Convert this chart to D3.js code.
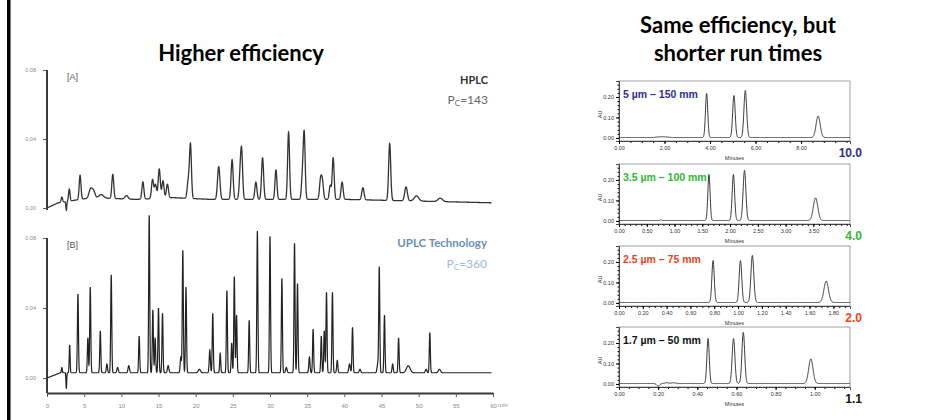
<!DOCTYPE html>
<html>
<head>
<meta charset="utf-8">
<script src="https://cdn.jsdelivr.net/npm/d3@7"></script>
<style>
body { margin: 0; background: #fff; }
svg text { font-family: "Liberation Sans", Arial, sans-serif; }
</style>
</head>
<body>
<div id="chart"></div>
<script>
// ===== data =====
// left side: 60 min run, peak apex times (min), heights above baseline (AU), widths (sigma, min)
var hplcTimes   = [2.0, 2.6, 3.0, 4.45, 5.85, 6.25, 7.3, 8.85, 10.7, 12.9, 14.2, 14.6, 15.1, 15.6, 16.2, 19.0, 19.3, 23.1, 24.9, 26.0, 26.2, 28.1, 29.0, 30.8, 32.5, 34.35, 34.6, 36.8, 37.05, 38.1, 38.5, 39.7, 42.5, 46.1, 48.3, 49.7, 52.9];
var hplcHeights = [0.003, -0.005, 0.007, 0.014, 0.005, 0.004, 0.002, 0.014, 0.002, 0.010, 0.011, 0.008, 0.017, 0.010, 0.008, 0.010, 0.031, 0.019, 0.023, 0.015, 0.024, 0.010, 0.024, 0.017, 0.039, 0.012, 0.038, 0.011, 0.010, 0.008, 0.024, 0.010, 0.007, 0.033, 0.008, 0.003, 0.002];
var hplcWidths  = [0.10, 0.06, 0.10, 0.12, 0.20, 0.20, 0.30, 0.13, 0.20, 0.13, 0.14, 0.14, 0.14, 0.14, 0.14, 0.14, 0.13, 0.16, 0.14, 0.14, 0.13, 0.14, 0.14, 0.13, 0.13, 0.13, 0.13, 0.14, 0.14, 0.13, 0.13, 0.14, 0.15, 0.14, 0.18, 0.30, 0.30];
var hplcBaseT   = [0, 1.5, 3, 6, 12, 17, 22, 40, 50, 60];
var hplcBaseV   = [0.000, 0.003, 0.004, 0.006, 0.005, 0.006, 0.005, 0.005, 0.004, 0.003];

var uplcTimes   = [2.0, 2.6, 3.05, 4.16, 5.5, 5.82, 7.17, 8.06, 8.64, 9.5, 11.0, 12.4, 13.75, 14.24, 14.55, 15.0, 15.54, 16.3, 18.0, 18.27, 18.7, 20.5, 21.9, 22.3, 23.3, 24.2, 24.85, 25.2, 25.5, 27.2, 28.3, 30.0, 31.6, 32.2, 33.3, 33.7, 35.3, 35.8, 36.9, 37.3, 37.6, 38.4, 39.05, 40.7, 41.1, 42.1, 44.5, 44.7, 45.4, 46.5, 47.3, 48.6, 51.0, 51.5, 52.8];
var uplcHeights = [0.003, -0.009, 0.016, 0.045, 0.020, 0.049, 0.024, 0.005, 0.056, 0.003, 0.004, 0.021, 0.090, 0.036, 0.020, 0.037, 0.034, 0.004, 0.009, 0.070, 0.049, 0.002, 0.013, 0.034, 0.011, 0.047, 0.017, 0.055, 0.033, 0.030, 0.081, 0.078, 0.054, 0.003, 0.074, 0.051, 0.009, 0.025, 0.021, 0.024, 0.046, 0.046, 0.007, 0.005, 0.026, 0.002, 0.005, 0.060, 0.033, 0.005, 0.020, 0.004, 0.002, 0.023, 0.002];
var uplcWidths  = [0.06, 0.05, 0.06, 0.07, 0.07, 0.07, 0.07, 0.08, 0.07, 0.10, 0.10, 0.07, 0.07, 0.07, 0.07, 0.07, 0.07, 0.10, 0.08, 0.07, 0.07, 0.15, 0.08, 0.07, 0.07, 0.07, 0.07, 0.07, 0.07, 0.07, 0.07, 0.07, 0.07, 0.10, 0.07, 0.07, 0.08, 0.07, 0.07, 0.07, 0.07, 0.07, 0.08, 0.10, 0.07, 0.10, 0.10, 0.07, 0.07, 0.08, 0.07, 0.25, 0.10, 0.07, 0.15];
var uplcBaseT   = [0, 1.8, 60];
var uplcBaseV   = [0.000, 0.003, 0.003];

var leftXTicks = [0, 5, 10, 15, 20, 25, 30, 35, 40, 45, 50, 55, 60];
var leftYTicks = [0.00, 0.04, 0.08];

// right side: same separation on four columns
var columnNames = ["5 µm – 150 mm", "3.5 µm – 100 mm", "2.5 µm – 75 mm", "1.7 µm – 50 mm"];
var runTimes    = ["10.0", "4.0", "2.0", "1.1"];
var columnEnds  = [10.15, 4.16, 1.94, 1.18];
var lastLabels  = [8, 3.5, 1.8, 1.0];
var tickSteps   = [2, 0.5, 0.2, 0.2];
var minorSteps  = [0.5, 0.1, 0.05, 0.05];
var peakTimes   = [[1.9, 3.85, 5.05, 5.55, 8.75], [0.75, 1.62, 2.06, 2.26, 3.54], [0.79, 1.02, 1.12, 1.74], [0.2, 0.245, 0.28, 0.455, 0.585, 0.635, 0.98]];
var peakHeights = [[0.004, 0.215, 0.205, 0.23, 0.105], [0.004, 0.225, 0.225, 0.245, 0.11], [0.205, 0.205, 0.23, 0.105], [-0.012, 0.004, 0.004, 0.22, 0.22, 0.25, 0.12]];
var peakWidths  = [[0.2, 0.05, 0.055, 0.06, 0.09], [0.01, 0.02, 0.022, 0.025, 0.04], [0.01, 0.011, 0.012, 0.019], [0.008, 0.01, 0.01, 0.006, 0.007, 0.007, 0.011]];
var rightYTicks = [0.00, 0.10, 0.20];
var columnColors = ["#2e3192", "#33b533", "#ee4422", "#111111"];

// ===== set up =====
var svgWidth = 952;
var svgHeight = 420;

var svg = d3.select("#chart")
  .append("svg")
  .attr("width", svgWidth)
  .attr("height", svgHeight);

// sum of gaussian peaks on a baseline
function trace(times, heights, widths, base, t0, t1, step) {
  return d3.range(t0, t1 + step / 2, step).map(function(t) {
    var v = base(t);
    times.forEach(function(c, i) {
      v += heights[i] * Math.exp(-Math.pow(t - c, 2) / (2 * widths[i] * widths[i]));
    });
    return [t, v];
  });
}

// left border bar
svg.append("rect")
  .attr("x", 7).attr("y", 0)
  .attr("width", 3.5).attr("height", svgHeight)
  .attr("fill", "#000");

// titles
svg.append("text")
  .attr("x", 241).attr("y", 61)
  .attr("text-anchor", "middle")
  .style("font-family", "Lato, sans-serif")
  .style("font-weight", "bold")
  .style("font-size", "22px")
  .text("Higher efficiency");

svg.append("text")
  .attr("x", 738).attr("y", 33)
  .attr("text-anchor", "middle")
  .style("font-family", "Lato, sans-serif")
  .style("font-weight", "bold")
  .style("font-size", "22px")
  .text("Same efficiency, but");

svg.append("text")
  .attr("x", 738).attr("y", 61)
  .attr("text-anchor", "middle")
  .style("font-family", "Lato, sans-serif")
  .style("font-weight", "bold")
  .style("font-size", "22px")
  .text("shorter run times");

// ===== left chart =====
var xLeft = d3.scaleLinear().domain([0, 60]).range([47, 493]);
var yA = d3.scaleLinear().domain([0, 0.08]).range([208, 70]);
var yB = d3.scaleLinear().domain([0, 0.08]).range([378, 238]);

// y axes: d3 axis, domain path kept and restyled
function leftYAxis(scale, bottom) {
  var g = svg.append("g").attr("transform", "translate(47,0)");
  g.call(d3.axisLeft(scale).tickValues(leftYTicks).tickFormat(d3.format(".2f")).tickSize(4).tickPadding(7).tickSizeOuter(0));
  g.select(".domain")
    .attr("d", "M0," + scale(0.08) + "V" + bottom)
    .attr("stroke", "#3a3a3a")
    .attr("stroke-width", 2);
  g.selectAll(".tick line").attr("stroke", "#555").attr("stroke-width", 1);
  g.selectAll(".tick text").attr("fill", "#888").style("font-size", "5.5px");
}
leftYAxis(yA, 210);
leftYAxis(yB, 393);

var xAxisLeft = svg.append("g")
  .attr("transform", "translate(0,393)")
  .call(d3.axisBottom(xLeft).tickValues(leftXTicks).tickSize(4).tickPadding(7).tickSizeOuter(0));
xAxisLeft.select(".domain").attr("stroke", "#3a3a3a").attr("stroke-width", 2);
xAxisLeft.selectAll(".tick line").attr("stroke", "#555").attr("stroke-width", 1);
xAxisLeft.selectAll(".tick text").attr("fill", "#888").style("font-size", "6px");
svg.append("text")
  .attr("x", 498).attr("y", 407)
  .attr("fill", "#888").style("font-size", "6px")
  .text("min");

var hplcBase = d3.scaleLinear().domain(hplcBaseT).range(hplcBaseV).clamp(true);
var uplcBase = d3.scaleLinear().domain(uplcBaseT).range(uplcBaseV).clamp(true);

var lineA = d3.line().x(d => xLeft(d[0])).y(d => yA(d[1]));
var lineB = d3.line().x(d => xLeft(d[0])).y(d => yB(d[1]));

svg.append("path")
  .attr("d", lineA(trace(hplcTimes, hplcHeights, hplcWidths, hplcBase, 0, 59.8, 0.01)))
  .attr("fill", "none")
  .attr("stroke", "#333")
  .attr("stroke-width", 1.3);

svg.append("path")
  .attr("d", lineB(trace(uplcTimes, uplcHeights, uplcWidths, uplcBase, 0, 59.8, 0.01)))
  .attr("fill", "none")
  .attr("stroke", "#222")
  .attr("stroke-width", 1.2);

// panel labels
svg.append("text").attr("x", 67).attr("y", 80)
  .attr("fill", "#555").style("font-size", "9px").text("[A]");
svg.append("text").attr("x", 67).attr("y", 248)
  .attr("fill", "#555").style("font-size", "9px").text("[B]");

svg.append("text").attr("x", 488).attr("y", 84)
  .attr("text-anchor", "end").attr("fill", "#333")
  .style("font-family", "Lato, sans-serif").style("font-weight", "bold").style("font-size", "11px")
  .text("HPLC");
var pcA = svg.append("text").attr("x", 488).attr("y", 104)
  .attr("text-anchor", "end").attr("fill", "#666")
  .style("font-family", "Lato, sans-serif").style("font-size", "12px");
pcA.append("tspan").text("P");
pcA.append("tspan").attr("dy", 2).style("font-size", "8px").text("C");
pcA.append("tspan").attr("dy", -2).text("=143");

svg.append("text").attr("x", 487).attr("y", 247)
  .attr("text-anchor", "end").attr("fill", "#6a8fb0")
  .style("font-family", "Lato, sans-serif").style("font-weight", "bold").style("font-size", "11.5px")
  .text("UPLC Technology");
var pcB = svg.append("text").attr("x", 487).attr("y", 268)
  .attr("text-anchor", "end").attr("fill", "#9dbbd0")
  .style("font-family", "Lato, sans-serif").style("font-size", "12px");
pcB.append("tspan").text("P");
pcB.append("tspan").attr("dy", 2).style("font-size", "8px").text("C");
pcB.append("tspan").attr("dy", -2).text("=360");

// ===== right chart: four small chromatograms =====
var panelTops = [81, 164, 246, 327];
var panelHeight = 60;
var panelLeft = 619;
var panelRight = 850;

columnNames.forEach(function(name, i) {
  var top = panelTops[i];
  var bottom = top + panelHeight;

  var x = d3.scaleLinear().domain([0, columnEnds[i]]).range([panelLeft, panelRight]);
  var y = d3.scaleLinear().domain([-0.015, 0.278]).range([bottom, top]);

  var g = svg.append("g");

  g.append("rect")
    .attr("x", panelLeft).attr("y", top)
    .attr("width", panelRight - panelLeft).attr("height", panelHeight)
    .attr("fill", "none").attr("stroke", "#888").attr("stroke-width", 0.8);

  // x axis, major + minor ticks
  var majors = d3.range(0, lastLabels[i] + 1e-9, tickSteps[i]);
  var minors = d3.range(0, columnEnds[i] + 1e-9, minorSteps[i]);
  var xMinor = g.append("g").attr("transform", "translate(0," + bottom + ")")
    .call(d3.axisBottom(x).tickValues(minors).tickFormat("").tickSize(2));
  xMinor.select(".domain").remove();
  var xMajor = g.append("g").attr("transform", "translate(0," + bottom + ")")
    .call(d3.axisBottom(x).tickValues(majors).tickFormat(d3.format(".2f")).tickSize(3).tickPadding(2));
  xMajor.select(".domain").attr("stroke", "#333").attr("stroke-width", 0.9);
  xMajor.selectAll(".tick text").attr("fill", "#333").style("font-size", "5.5px");

  g.append("text")
    .attr("x", (panelLeft + panelRight) / 2).attr("y", bottom + 19)
    .attr("text-anchor", "middle").attr("fill", "#333").style("font-size", "5.5px")
    .text("Minutes");

  // y axis
  var yMinor = g.append("g").attr("transform", "translate(" + panelLeft + ",0)")
    .call(d3.axisLeft(y).tickValues(d3.range(0, 0.27, 0.02)).tickFormat("").tickSize(1.5));
  yMinor.select(".domain").remove();
  var yMajor = g.append("g").attr("transform", "translate(" + panelLeft + ",0)")
    .call(d3.axisLeft(y).tickValues(rightYTicks).tickFormat(d3.format(".2f")).tickSize(3).tickPadding(2));
  yMajor.select(".domain").attr("stroke", "#333").attr("stroke-width", 0.9);
  yMajor.selectAll(".tick text").attr("fill", "#333").style("font-size", "5.5px");

  g.append("text")
    .attr("transform", "translate(602," + (y(0.115)) + ") rotate(-90)")
    .attr("text-anchor", "middle").attr("fill", "#333").style("font-size", "5.5px")
    .text("AU");

  // trace
  var line = d3.line().x(d => x(d[0])).y(d => y(d[1]));
  var pts = trace(peakTimes[i], peakHeights[i], peakWidths[i], function() { return 0.002; },
    0, columnEnds[i], columnEnds[i] / 2000);
  g.append("path")
    .attr("d", line(pts))
    .attr("fill", "none").attr("stroke", "#222").attr("stroke-width", 0.9);

  // column label and run time
  g.append("text")
    .attr("x", panelLeft + 4).attr("y", top + 17)
    .attr("fill", columnColors[i])
    .style("font-weight", "bold").style("font-size", "10.5px")
    .text(name);

  g.append("text")
    .attr("x", 862).attr("y", bottom + 16)
    .attr("text-anchor", "end")
    .attr("fill", columnColors[i])
    .style("font-weight", "bold").style("font-size", "12px")
    .text(runTimes[i]);
});
</script>
</body>
</html>
